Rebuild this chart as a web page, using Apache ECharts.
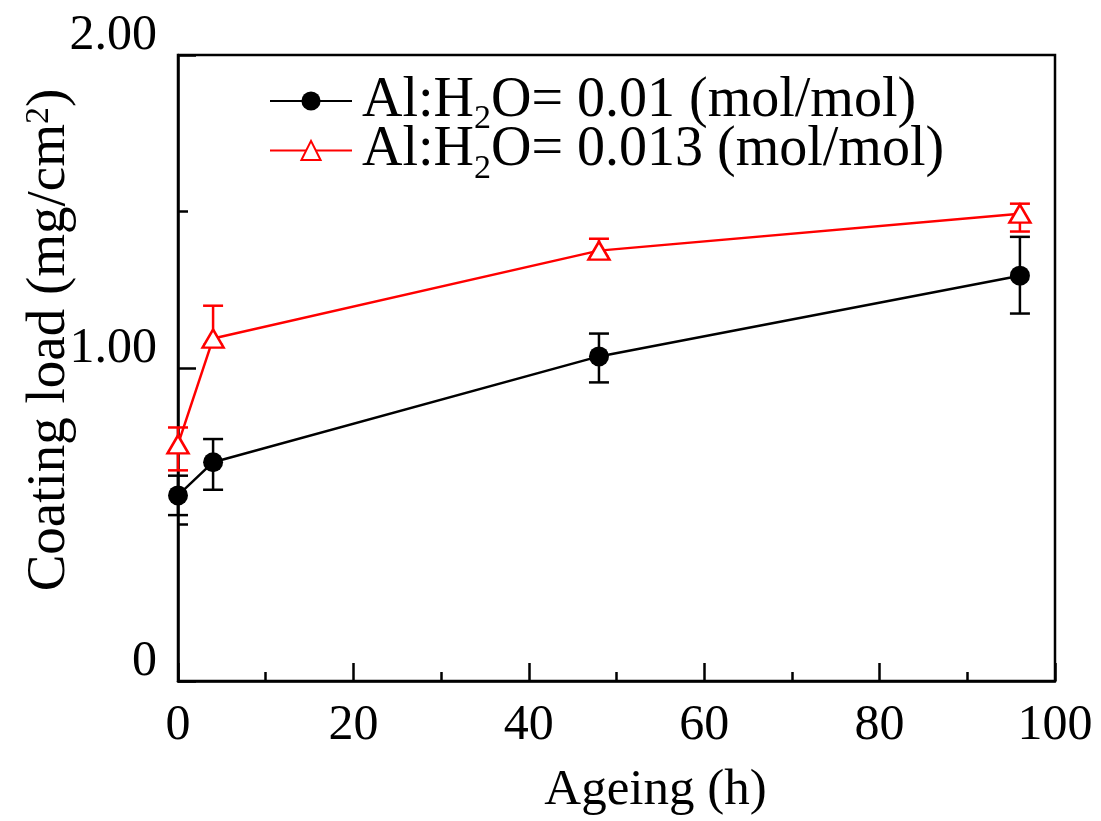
<!DOCTYPE html>
<html>
<head>
<meta charset="utf-8">
<script src="https://cdn.jsdelivr.net/npm/echarts@6/dist/echarts.min.js"></script>
<style>
html,body{margin:0;padding:0;background:#fff;}
#chart{width:1101px;height:821px;}
</style>
</head>
<body>
<div id="chart"></div>
<script>
// ---- data ----
const ageingHours = [0, 4, 48, 96];
const load001 = [0.593, 0.699, 1.037, 1.295];
const load001ErrUp = [0.063, 0.074, 0.073, 0.124];
const load001ErrDown = [0.063, 0.088, 0.083, 0.121];
const load0013 = [0.756, 1.094, 1.375, 1.493];
const load0013ErrUp = [0.054, 0.105, 0.038, 0.032];
const load0013ErrDown = [0.083, 0.02, 0.02, 0.057];
const seriesNames = ['Al:H2O= 0.01 (mol/mol)', 'Al:H2O= 0.013 (mol/mol)'];
const xTicks = [0, 20, 40, 60, 80, 100];
const yTickLabels = {0: '0', 1: '1.00', 2: '2.00'};
const yTitle = ['Coating load (mg/cm', '2', ')'];

const FONT = '"Liberation Serif", "Times New Roman", serif';

function pts(vals) { return ageingHours.map((x, i) => [x, vals[i]]); }
function errData(vals, up, down) {
  return ageingHours.map((x, i) => [x, vals[i] - down[i], vals[i] + up[i]]);
}
function errRender(color) {
  return function (params, api) {
    const x = api.value(0), lo = api.value(1), hi = api.value(2);
    const a = api.coord([x, hi]), b = api.coord([x, lo]);
    const w = 10;
    const st = {stroke: color, lineWidth: 2.5};
    return {type: 'group', children: [
      {type: 'line', shape: {x1: a[0], y1: a[1], x2: b[0], y2: b[1]}, style: st},
      {type: 'line', shape: {x1: a[0] - w, y1: a[1], x2: a[0] + w, y2: a[1]}, style: st},
      {type: 'line', shape: {x1: b[0] - w, y1: b[1], x2: b[0] + w, y2: b[1]}, style: st}
    ]};
  };
}

const chart = echarts.init(document.getElementById('chart'), null, {renderer: 'canvas'});
const option = {
  backgroundColor: '#fff',
  animation: false,
  grid: {left: 178, right: 46, top: 55, bottom: 139, show: true,
         borderColor: '#000', borderWidth: 2.5, backgroundColor: 'transparent'},
  graphic: [{
    type: 'text', x: 50, y: 340, rotation: Math.PI / 2,
    style: {
      text: '{t|' + yTitle[0] + '}{p|' + yTitle[1] + '}{t|' + yTitle[2] + '}',
      align: 'center', verticalAlign: 'middle', fill: '#000',
      rich: {
        t: {fontFamily: FONT, fontSize: 55, lineHeight: 56, fill: '#000'},
        p: {fontFamily: FONT, fontSize: 34, lineHeight: 18, verticalAlign: 'top', fill: '#000'}
      }
    }
  }],
  legend: {
    orient: 'vertical', left: 264, top: 68, itemGap: -14,
    itemWidth: 82, itemHeight: 24,
    data: seriesNames,
    formatter: function (name) {
      const m = name.match(/^(.*?H)2(O.*)$/);
      return '{f|' + m[1] + '}{s|2}{t|' + m[2] + '}';
    },
    textStyle: {
      fontFamily: FONT, color: '#000',
      rich: {
        f: {fontFamily: FONT, fontSize: 56, lineHeight: 45, color: '#000', padding: [0, 0, 0, 5]},
        t: {fontFamily: FONT, fontSize: 56, lineHeight: 45, color: '#000'},
        s: {fontFamily: FONT, fontSize: 34, lineHeight: 8, verticalAlign: 'top',
            padding: [24, 0, 0, 0], color: '#000'}
      }
    }
  },
  xAxis: {
    type: 'value', min: 0, max: 100, interval: 20,
    name: 'Ageing (h)', nameLocation: 'middle', nameGap: 84,
    nameTextStyle: {fontFamily: FONT, fontSize: 51, color: '#000', padding: [0, 0, 0, 78]},
    axisLine: {lineStyle: {color: '#000', width: 2.5}},
    axisTick: {inside: true, length: 18, lineStyle: {color: '#000', width: 2.5}},
    minorTick: {show: true, splitNumber: 2, length: 9, lineStyle: {color: '#000', width: 2.5}},
    splitLine: {show: false},
    axisLabel: {fontFamily: FONT, fontSize: 50, color: '#000', margin: 20,
                formatter: v => xTicks.indexOf(v) >= 0 ? String(v) : ''}
  },
  yAxis: {
    type: 'value', min: 0, max: 2, interval: 1,
    axisLine: {lineStyle: {color: '#000', width: 2.5}},
    axisTick: {inside: true, length: 18, lineStyle: {color: '#000', width: 2.5}},
    minorTick: {show: true, splitNumber: 2, length: 10, lineStyle: {color: '#000', width: 2.5}},
    splitLine: {show: false},
    axisLabel: {fontFamily: FONT, fontSize: 50, color: '#000', margin: 21,
                verticalAlign: 'bottom', lineHeight: 38,
                formatter: v => (yTickLabels[v] !== undefined ? yTickLabels[v] : '')}
  },
  series: [
    {type: 'custom', name: 'err1', renderItem: errRender('#000'),
     data: errData(load001, load001ErrUp, load001ErrDown), z: 2, silent: true},
    {type: 'custom', name: 'err2', renderItem: errRender('#ff0000'),
     data: errData(load0013, load0013ErrUp, load0013ErrDown), z: 2, silent: true},
    {type: 'line', name: seriesNames[0], data: pts(load001), z: 3,
     symbol: 'circle', symbolSize: 20,
     lineStyle: {color: '#000', width: 2.5},
     itemStyle: {color: '#000', borderColor: '#000', borderWidth: 0}},
    {type: 'line', name: seriesNames[1], data: pts(load0013), z: 4,
     symbol: 'triangle', symbolSize: [21, 18],
     lineStyle: {color: '#ff0000', width: 2.5},
     itemStyle: {color: '#fff', borderColor: '#ff0000', borderWidth: 2.5}}
  ]
};
chart.setOption(option);
</script>
</body>
</html>
